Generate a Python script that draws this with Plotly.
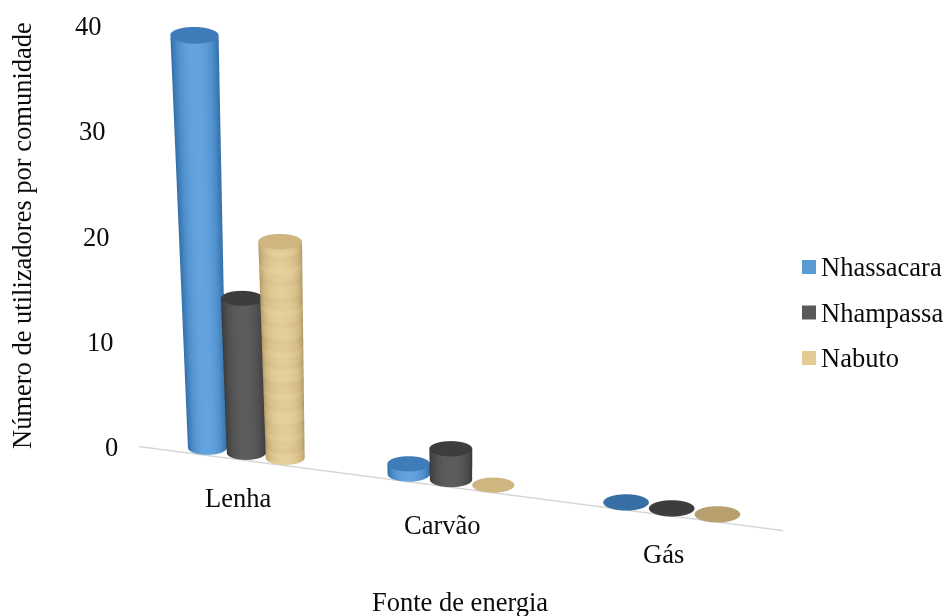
import math
import numpy as np
import plotly.graph_objects as go

categories = ["Lenha", "Carvão", "Gás"]
series_names = ["Nhassacara", "Nhampassa", "Nabuto"]
nhassacara = [40, 1, 0]
nhampassa = [15, 3, 0]
nabuto = [21, 0, 0]
tick_values = [0, 10, 20, 30, 40]
x_title = "Fonte de energia"
y_title = "Número de utilizadores por comunidade"

FONT = "Liberation Serif"
TEXT = "#0c0c0c"
LABEL_SIZE = 26.5

# Scene proportions: world sizes expressed per unit of each data axis
UNIT = 306.0
X_PER_CAT = 227.0
Y_SPAN = 160.0
Z_PER_VAL = 10.93
RADIUS = 21.0
OFFSET = 0.197
X_RANGE = [-0.8, 2.8]
Z_RANGE = [-1, 42]

ELEV = math.radians(21)
AZIM = math.radians(20)
EYE_R = 1.68
CENTER = dict(x=0.035, y=0.013, z=-0.131)

view = np.array([math.sin(AZIM), -math.cos(AZIM)])


def recede(x, z):
    """Mild foreshortening: the cylinders flare upward and grow toward the right."""
    x = np.asarray(x, float)
    z = np.asarray(z, float)
    return 1.25 + (x - 1.25) * (1 + 0.042 * z / 40)


def growth(x, z):
    return 1 + 0.18 * z / 40 + 0.08 * (x - 1)


def cat_position(cat):
    """Categories spread a little wider toward the near end of the axis."""
    return cat * (197 + 8 * cat) / 215


def cylinder(cat, slot, value, scale, cap_shade, textured=False):
    cx = cat_position(cat) + (slot - 1) * OFFSET * growth(cat, 0)
    theta = np.linspace(0, 2 * np.pi, 97)
    heights = list(np.linspace(0, value, 120 if textured else 8)) if value > 0 else []
    xs, ys, zs, cs = [], [], [], []
    normal = np.cos(theta) * view[0] + np.sin(theta) * view[1]
    side = 0.08 + 0.92 * np.clip(normal, 0, 1) ** 0.9
    for h in heights:
        g = growth(cat, h)
        px = RADIUS * g / X_PER_CAT
        py = RADIUS * g / (Y_SPAN / 2)
        xs.append(recede(cx + px * np.cos(theta), np.full_like(theta, h)))
        ys.append(py * np.sin(theta))
        zs.append(np.full_like(theta, h))
        if textured:
            # Wood-like grain running around the cylinder wall
            grain = (0.04 * np.sin(h * 3.1) + 0.03 * np.sin(h * 7.7 + 1.0)
                     + 0.02 * np.sin(h * 1.3 + 2.0) + 0.01 * np.sin(theta * 5 + h * 2))
            cs.append(np.clip(side * 0.85 + grain, 0, 1))
        else:
            cs.append(side)
    g = growth(cat, value)
    for frac in (1.0, 0.0):
        px = frac * RADIUS * g / X_PER_CAT
        py = frac * RADIUS * g / (Y_SPAN / 2)
        xs.append(recede(cx + px * np.cos(theta), np.full_like(theta, value)))
        ys.append(py * np.sin(theta))
        zs.append(np.full_like(theta, float(value)))
        cs.append(np.full_like(theta, cap_shade))
    return go.Surface(
        x=np.array(xs), y=np.array(ys), z=np.array(zs), surfacecolor=np.array(cs),
        colorscale=scale, cmin=0, cmax=1, showscale=False, hoverinfo="skip",
        lighting=dict(ambient=1, diffuse=0, specular=0, roughness=1, fresnel=0),
        contours=dict(x=dict(highlight=False), y=dict(highlight=False), z=dict(highlight=False)),
    )


BLUE = [[0, "#2f5f8e"], [0.6, "#3f80bd"], [1, "#62a3e0"]]
GREY = [[0, "#2e2e2e"], [0.6, "#474747"], [1, "#5c5c5c"]]
TAN = [[0, "#9a8558"], [0.55, "#cfb680"], [1, "#ecd8a4"]]
scales = [BLUE, GREY, TAN]
caps = [[0.55, 0.55, 0.3], [0.35, 0.35, 0.35], [0.55, 0.55, 0.3]]
swatches = ["#5b9bd5", "#595959", "#e4cb94"]

fig = go.Figure()

# Baseline of the category axis, just under the discs at zero
fig.add_trace(go.Scatter3d(
    x=[-0.47, 2.53], y=[-0.23, -0.23], z=[-0.06, -0.06], mode="lines",
    line=dict(color="#d6d6d6", width=3), hoverinfo="skip", showlegend=False,
))

for slot, values in enumerate([nhassacara, nhampassa, nabuto]):
    for cat, value in enumerate(values):
        fig.add_trace(cylinder(cat, slot, value, scales[slot], caps[slot][cat], textured=slot == 2))

scene_notes = []
for v in tick_values:
    scene_notes.append(dict(
        x=float(recede(-0.5, v)), y=0.1, z=v * 1.02, text=str(v), showarrow=False,
        xanchor="right", xshift=-22, yshift=-11, font=dict(family=FONT, size=LABEL_SIZE, color=TEXT),
    ))
for i, name in enumerate(categories):
    scene_notes.append(dict(
        x=float(cat_position(i)), y=0.1, z=0, text=name, showarrow=False, yshift=-48, xshift=-11,
        font=dict(family=FONT, size=LABEL_SIZE, color=TEXT),
    ))

annotations = [
    dict(xref="paper", yref="paper", x=460 / 945, y=1 - 602 / 616, text=x_title, showarrow=False,
         xanchor="center", yanchor="middle", font=dict(family=FONT, size=LABEL_SIZE, color=TEXT)),
    dict(xref="paper", yref="paper", x=22 / 945, y=1 - 236 / 616, text=y_title, textangle=-90, showarrow=False,
         xanchor="center", yanchor="middle", font=dict(family=FONT, size=LABEL_SIZE, color=TEXT)),
]
shapes = []
for i, (name, col) in enumerate(zip(series_names, swatches)):
    cy = 267 + i * 45.5
    annotations.append(dict(xref="paper", yref="paper", x=819 / 945, y=1 - cy / 616, xanchor="left",
                            yanchor="middle", text=name, showarrow=False,
                            font=dict(family=FONT, size=LABEL_SIZE, color=TEXT)))
    shapes.append(dict(type="rect", xref="paper", yref="paper", x0=802 / 945, x1=816 / 945,
                       y0=1 - (cy + 7) / 616, y1=1 - (cy - 7) / 616, fillcolor=col, line=dict(width=0)))

hidden = dict(visible=False, showgrid=False, zeroline=False, showspikes=False)
x_world = (X_RANGE[1] - X_RANGE[0]) * X_PER_CAT / UNIT
z_world = (Z_RANGE[1] - Z_RANGE[0]) * Z_PER_VAL / UNIT
fig.update_layout(
    width=945, height=616, margin=dict(l=0, r=0, t=0, b=0), paper_bgcolor="white", showlegend=False,
    annotations=annotations, shapes=shapes,
    scene=dict(
        domain=dict(x=[0, 1], y=[0, 1]),
        xaxis=dict(hidden, range=X_RANGE),
        yaxis=dict(hidden, range=[-1, 1]),
        zaxis=dict(hidden, range=Z_RANGE),
        aspectmode="manual",
        aspectratio=dict(x=x_world, y=Y_SPAN / UNIT, z=z_world),
        camera=dict(
            projection=dict(type="orthographic"),
            up=dict(x=0, y=0, z=1),
            center=CENTER,
            eye=dict(x=EYE_R * math.cos(ELEV) * math.sin(AZIM) + CENTER["x"],
                     y=-EYE_R * math.cos(ELEV) * math.cos(AZIM) + CENTER["y"],
                     z=EYE_R * math.sin(ELEV) + CENTER["z"]),
        ),
        annotations=scene_notes,
    ),
)
fig.write_html("out.html")
